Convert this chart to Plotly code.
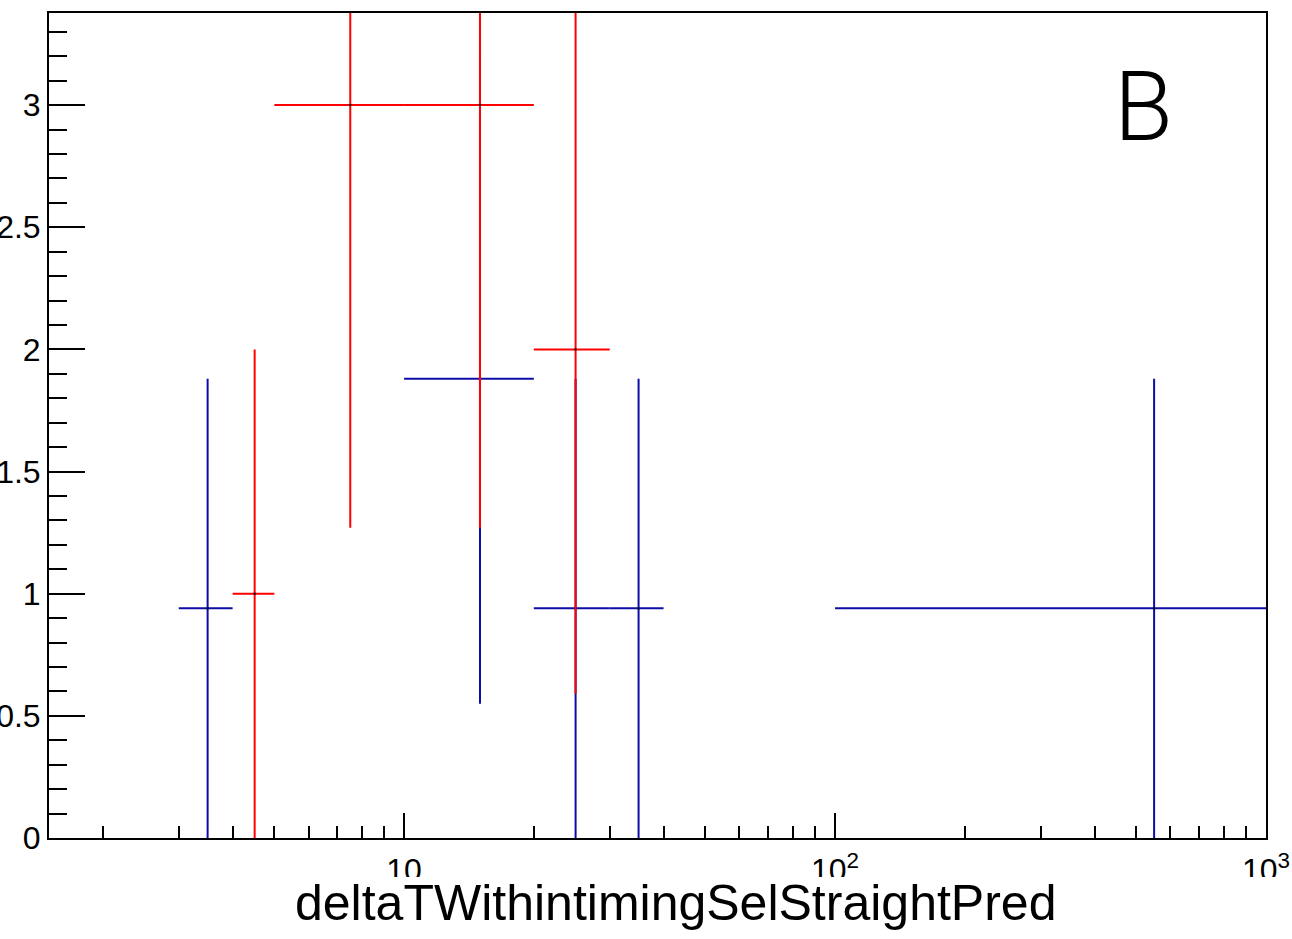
import plotly.graph_objects as go

# Blue histogram: bin edges, contents, vertical errors
blue_lo = [3, 10, 20, 30, 100]
blue_hi = [4, 20, 30, 40, 1000]
blue_y = [0.94, 1.88, 0.94, 0.94, 0.94]
blue_err = [0.94, 1.33, 0.94, 0.94, 0.94]

# Red histogram
red_lo = [4, 5, 10, 20]
red_hi = [5, 10, 20, 30]
red_y = [1, 3, 3, 2]
red_err = [1, 1.73, 1.73, 1.41]

x_title = "deltaTWithintimingSelStraightPred"
panel_label = "B"
x_major = [10, 100, 1000]
x_major_text = ["10", "10<sup>2</sup>", "10<sup>3</sup>"]

BLUE = "#0c0ca6"
RED = "#ff0000"
FONT = "Liberation Sans, Arial, sans-serif"


def hist_trace(lo, hi, y, err, color):
    centers = [(a + b) / 2 for a, b in zip(lo, hi)]
    return go.Scatter(
        x=centers,
        y=y,
        mode="markers",
        marker=dict(size=2, color="black", symbol="square"),
        error_x=dict(
            type="data",
            symmetric=False,
            array=[b - c for b, c in zip(hi, centers)],
            arrayminus=[c - a for a, c in zip(lo, centers)],
            color=color,
            thickness=2,
            width=0,
        ),
        error_y=dict(type="data", array=err, color=color, thickness=2, width=0),
        showlegend=False,
        hoverinfo="skip",
    )


fig = go.Figure()
fig.add_trace(hist_trace(blue_lo, blue_hi, blue_y, blue_err, BLUE))
fig.add_trace(hist_trace(red_lo, red_hi, red_y, red_err, RED))

minor_x = [m * 10**e for e in range(0, 3) for m in range(2, 10) if m * 10**e > 1.5]

fig.update_xaxes(
    type="log",
    range=[0.176, 3],
    automargin=False,
    showline=True,
    linecolor="black",
    linewidth=2,
    mirror=True,
    showgrid=False,
    zeroline=False,
    ticks="inside",
    ticklen=25,
    tickwidth=2,
    tickcolor="black",
    tickmode="array",
    tickvals=x_major,
    ticktext=x_major_text,
    ticklabelstandoff=3,
    tickfont=dict(family=FONT, size=32, color="black"),
    minor=dict(
        tickmode="array",
        tickvals=minor_x,
        ticks="inside",
        ticklen=12,
        tickwidth=2,
        tickcolor="black",
        showgrid=False,
    ),
)
fig.update_yaxes(
    range=[0, 3.377],
    automargin=False,
    showline=True,
    linecolor="black",
    linewidth=2,
    mirror=True,
    showgrid=False,
    zeroline=False,
    ticks="inside",
    ticklen=36,
    tickwidth=2,
    tickcolor="black",
    dtick=0.5,
    tick0=0,
    tickfont=dict(family=FONT, size=32, color="black"),
    minor=dict(dtick=0.1, ticks="inside", ticklen=18, tickwidth=2,
               tickcolor="black", showgrid=False),
)

# white strip that hides the lower part of the x tick labels, as in the original
fig.add_shape(type="rect", xref="paper", yref="paper", x0=-0.1, x1=1.1,
              y0=-0.2, y1=-0.0473, fillcolor="white", line=dict(width=0),
              layer="above")

fig.add_annotation(text=x_title, xref="paper", yref="paper", x=0.5144, y=-0.079,
                   xanchor="center", yanchor="middle", showarrow=False,
                   font=dict(family=FONT, size=50, color="black"))
fig.add_annotation(text=panel_label, xref="paper", yref="paper", x=0.899, y=0.8855,
                   xanchor="center", yanchor="middle", showarrow=False,
                   font=dict(family="Roboto", size=96, color="black", weight=300))

fig.update_layout(
    width=1292,
    height=939,
    margin=dict(l=49, r=26, t=13, b=101),
    plot_bgcolor="white",
    paper_bgcolor="white",
)
# drop the default 8px body margin so the figure fills the window exactly
fig.write_html(
    "out.html",
    config={"displayModeBar": False},
    post_script="document.body.style.margin = '0';",
)
